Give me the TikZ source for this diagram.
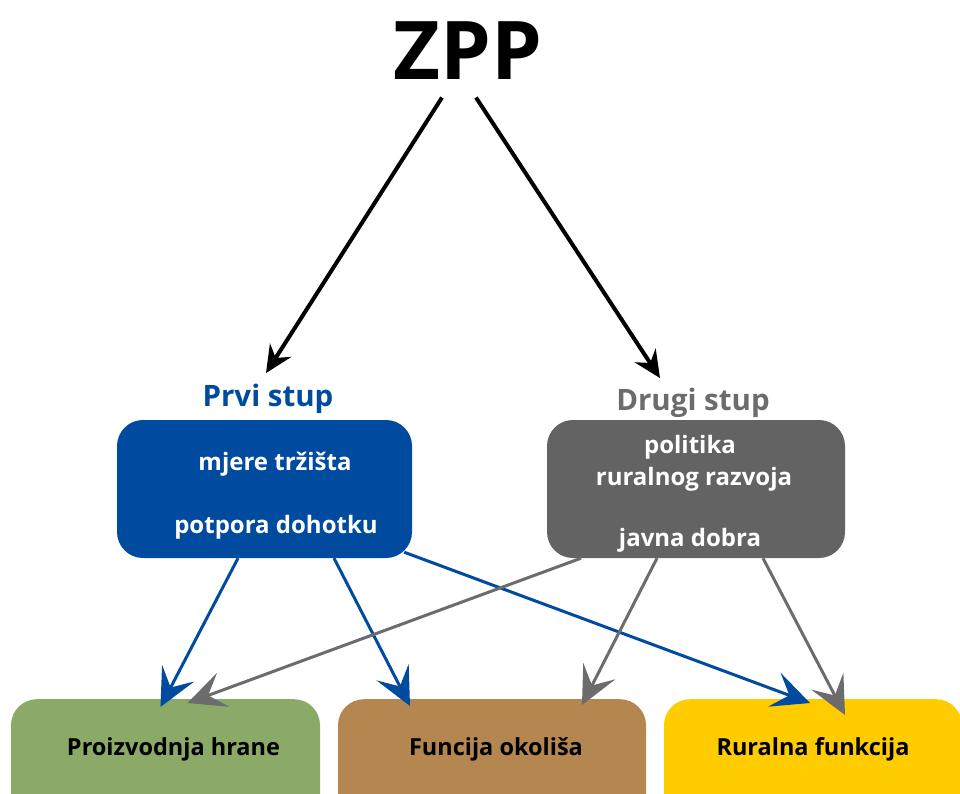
\documentclass[tikz,border=0pt]{standalone}
\usepackage{fontspec}
\setmainfont{Open Sans}
\usetikzlibrary{arrows.meta}
\definecolor{plava}{RGB}{0,74,160}
\definecolor{siva}{RGB}{99,99,99}
\definecolor{sivastr}{RGB}{108,108,108}
\definecolor{zelena}{RGB}{139,170,104}
\definecolor{smeda}{RGB}{181,135,80}
\definecolor{zuta}{RGB}{255,204,0}
\tikzset{
  kutija/.style={rounded corners=26pt, minimum height=138pt},
  bijeli/.style={anchor=base, text=white, font=\bfseries\fontsize{24}{28}\selectfont},
  crni/.style={anchor=base, font=\bfseries\fontsize{23.5}{28}\selectfont},
  naslov/.style={anchor=base, font=\bfseries\fontsize{29.5}{34}\selectfont},
  crna/.style={line width=4pt, -{Stealth[length=27pt,width=25pt,inset=9pt]}},
  veza/.style={line width=3pt, -{Stealth[length=38pt,width=36pt,inset=16pt]}}
}
\begin{document}
\begin{tikzpicture}[x=1pt,y=-1pt]
\useasboundingbox (0,0) rectangle (960,794);
\clip (0,0) rectangle (960,794);

\node (zpp) [anchor=base, font=\bfseries\fontsize{81}{86}\selectfont] at (468,80) {ZPP};
\node (prvinaslov) [naslov, text=plava] at (268,406) {Prvi stup};
\node (druginaslov) [naslov, text=sivastr] at (693,410) {Drugi stup};

\node (prvi) [kutija, fill=plava, minimum width=295pt] at (264.5,489) {};
\node (drugi) [kutija, fill=siva, minimum width=298pt] at (696,489) {};
\node (trziste) [bijeli] at (275,470) {mjere tržišta};
\node (dohodak) [bijeli] at (276,533) {potpora dohotku};
\node (politika) [bijeli] at (690,453) {politika};
\node (razvoj) [bijeli] at (694,485) {ruralnog razvoja};
\node (dobra) [bijeli] at (690,546) {javna dobra};

\node (hrana) [kutija, fill=zelena, minimum width=309pt, anchor=north] at (165.5,699) {};
\node (okolis) [kutija, fill=smeda, minimum width=308pt, anchor=north] at (492,699) {};
\node (ruralna) [kutija, fill=zuta, minimum width=298pt, anchor=north] at (813,699) {};
\node (hranatekst) [crni] at (173.5,755) {Proizvodnja hrane};
\node (okolistekst) [crni] at (496,755) {Funcija okoliša};
\node (ruralnatekst) [crni] at (813,755) {Ruralna funkcija};

\draw [crna] ([xshift=-26pt,yshift=-14pt]zpp.south) -- ([xshift=-2pt,yshift=7pt]prvinaslov.north);
\draw [crna] ([xshift=8pt,yshift=-14pt]zpp.south) -- ([xshift=-33pt,yshift=6pt]druginaslov.north);

\draw [veza, plava] ([xshift=-26.5pt]prvi.south) -- ([xshift=-5pt,yshift=-8pt]hrana.north);
\draw [veza, plava] ([xshift=69.5pt]prvi.south) -- ([xshift=-82pt,yshift=-7pt]okolis.north);
\draw [veza, plava] ([xshift=-8pt,yshift=6pt]prvi.south east) -- ([xshift=-3pt,yshift=-4pt]ruralna.north);
\draw [veza, sivastr] ([xshift=-115pt]drugi.south) -- ([xshift=22pt,yshift=-4pt]hrana.north);
\draw [veza, sivastr] ([xshift=-39pt]drugi.south) -- ([xshift=90pt,yshift=-6pt]okolis.north);
\draw [veza, sivastr] ([xshift=67pt]drugi.south) -- ([xshift=32pt,yshift=-16pt]ruralna.north);
\end{tikzpicture}
\end{document}
